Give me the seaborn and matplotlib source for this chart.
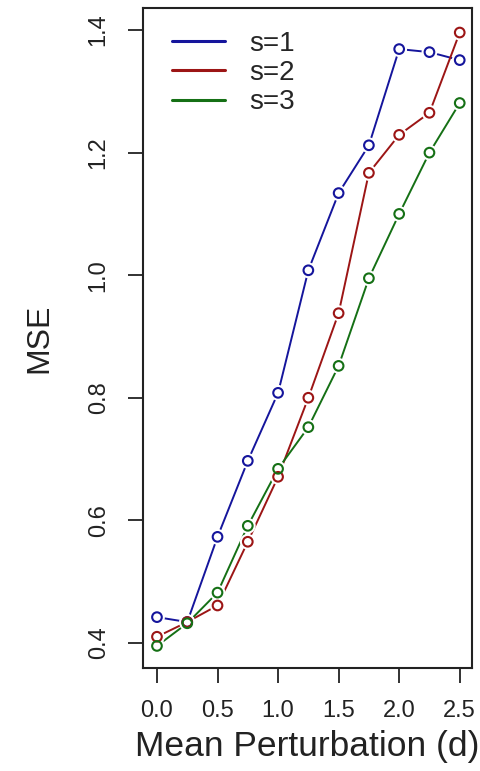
import numpy as np
import pandas as pd
import matplotlib
matplotlib.use("Agg")
import matplotlib.pyplot as plt
import seaborn as sns

d_values = [0.0, 0.25, 0.5, 0.75, 1.0, 1.25, 1.5, 1.75, 2.0, 2.25, 2.5]
mse_s1 = [0.442, 0.434, 0.573, 0.697, 0.808, 1.008, 1.134, 1.212, 1.369, 1.364, 1.351]
mse_s2 = [0.410, 0.434, 0.461, 0.565, 0.671, 0.800, 0.938, 1.167, 1.229, 1.265, 1.396]
mse_s3 = [0.395, 0.432, 0.482, 0.591, 0.684, 0.752, 0.852, 0.995, 1.100, 1.200, 1.281]
series_labels = ["s=1", "s=2", "s=3"]
colors = ["#15159c", "#9c1515", "#157015"]
x_ticks = [0.0, 0.5, 1.0, 1.5, 2.0, 2.5]
y_ticks = [0.4, 0.6, 0.8, 1.0, 1.2, 1.4]

df = pd.DataFrame({
    "d": d_values * 3,
    "MSE": mse_s1 + mse_s2 + mse_s3,
    "s": sum([[lab] * len(d_values) for lab in series_labels], []),
})

sns.set_style("ticks")
plt.rcParams["font.family"] = ["Liberation Sans", "DejaVu Sans"]

fig = plt.figure(figsize=(4.8, 7.71), dpi=100)
ax = fig.add_axes([0.298, 0.1336, 0.685, 0.856])

palette = dict(zip(series_labels, colors))
sns.lineplot(data=df, x="d", y="MSE", hue="s", palette=palette, sort=False,
             linewidth=1.4, ax=ax, legend=True, zorder=2)
# white halos to mimic R type="b" gaps
sns.scatterplot(data=df, x="d", y="MSE", color="white", s=130, marker="o",
                edgecolor="none", ax=ax, legend=False, zorder=3)
sns.scatterplot(data=df, x="d", y="MSE", hue="s", palette=palette, s=48, marker="o",
                linewidth=1.5, ax=ax, legend=False, zorder=4)
last = ax.collections[-1]
ec = last.get_facecolors()
last.set_edgecolors(ec)
last.set_facecolors("none")

ax.set_xlim(-0.115, 2.60)
ax.set_ylim(0.359, 1.436)
ax.set_xticks(x_ticks)
ax.set_xticklabels([f"{v:.1f}" for v in x_ticks], fontsize=17)
ax.set_yticks(y_ticks)
ax.set_yticklabels([f"{v:.1f}" for v in y_ticks], fontsize=17, rotation=90, va="center")
ax.tick_params(axis="both", direction="out", length=11, width=1.3, color="#222222", labelcolor="#222222")
ax.tick_params(axis="x", pad=12)
ax.tick_params(axis="y", pad=13)
for sp in ax.spines.values():
    sp.set_visible(True)
    sp.set_linewidth(1.5)
    sp.set_color("#222222")

ax.set_xlabel("Mean Perturbation (d)", fontsize=25.5, color="#222222", labelpad=6)
ax.set_ylabel("MSE", fontsize=23, color="#222222", labelpad=24)

leg = ax.legend(title=None, loc="upper left", frameon=False, fontsize=20,
                handlelength=1.9, handletextpad=0.85, labelspacing=0.12,
                bbox_to_anchor=(0.03, 0.995), borderaxespad=0.3)
for h in leg.get_lines():
    h.set_linewidth(2.2)

fig.savefig("out.png", dpi=100)
